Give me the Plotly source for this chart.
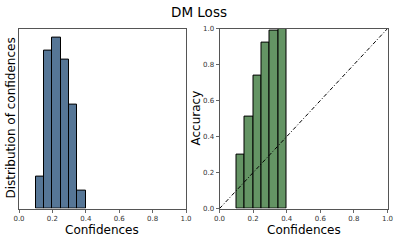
import plotly.graph_objects as go

bin_left = [0.10, 0.15, 0.20, 0.25, 0.30, 0.35]
bin_width = 0.05
conf_dist = [0.050, 0.250, 0.271, 0.236, 0.164, 0.028]
accuracy = [0.30, 0.51, 0.74, 0.92, 0.99, 1.00]
diag = [0.0, 1.0]
ticks = [0.0, 0.2, 0.4, 0.6, 0.8, 1.0]
tick_labels = ["0.0", "0.2", "0.4", "0.6", "0.8", "1.0"]

centers = [b + bin_width / 2 for b in bin_left]

fig = go.Figure()
fig.add_trace(go.Bar(x=centers, y=conf_dist, width=[bin_width] * len(centers),
                     marker=dict(color="rgb(86,118,150)", line=dict(color="black", width=1)),
                     xaxis="x", yaxis="y", showlegend=False))
fig.add_trace(go.Bar(x=centers, y=accuracy, width=[bin_width] * len(centers),
                     marker=dict(color="rgb(100,148,100)", line=dict(color="black", width=1)),
                     xaxis="x2", yaxis="y2", showlegend=False))
fig.add_trace(go.Scatter(x=diag, y=diag, mode="lines",
                         line=dict(color="black", width=1, dash="4px,2px,1px,2px"),
                         xaxis="x2", yaxis="y2", showlegend=False))

font = "DejaVu Sans"
W, H = 398, 241


def ax(**kw):
    d = dict(showgrid=False, zeroline=False, showline=True, linecolor="#555",
             linewidth=1, mirror=True, ticks="outside", ticklen=3, tickcolor="#666",
             automargin=False,
             tickfont=dict(size=7, family=font, color="#333"))
    d.update(kw)
    return d


anns = [
    dict(text="DM Loss", x=199 / W, y=1 - 12 / H),
    dict(text="Confidences", x=102.5 / W, y=1 - 229.5 / H),
    dict(text="Confidences", x=303.5 / W, y=1 - 229.5 / H),
    dict(text="Distribution of confidences", x=10 / W, y=1 - 118.5 / H, textangle=-90),
    dict(text="Accuracy", x=195 / W, y=1 - 118.5 / H, textangle=-90),
]
for a in anns:
    a.update(xref="paper", yref="paper", showarrow=False, xanchor="center", yanchor="middle",
             font=dict(size=13.5 if a["text"] == "DM Loss" else 12, family=font, color="black"))

fig.update_layout(
    width=W, height=H,
    margin=dict(l=0, r=0, t=0, b=0, pad=0, autoexpand=False),
    plot_bgcolor="white", paper_bgcolor="white",
    bargap=0,
    xaxis=ax(domain=[19 / W, 186 / W], range=[0, 1], tickvals=ticks, ticktext=tick_labels, anchor="y"),
    yaxis=ax(domain=[1 - 208.6 / H, 1 - 28.6 / H], range=[0, max(conf_dist) * 1.05],
             showticklabels=False, ticks="", anchor="x"),
    xaxis2=ax(domain=[219.5 / W, 387.5 / W], range=[0, 1], tickvals=ticks, ticktext=tick_labels, anchor="y2"),
    yaxis2=ax(domain=[1 - 208.6 / H, 1 - 28.6 / H], range=[0, 1], tickvals=ticks, ticktext=tick_labels,
              anchor="x2"),
    annotations=anns,
)
fig.write_html("out.html", config={"displayModeBar": False},
               post_script="document.body.style.margin='0';document.body.style.overflow='hidden';")
